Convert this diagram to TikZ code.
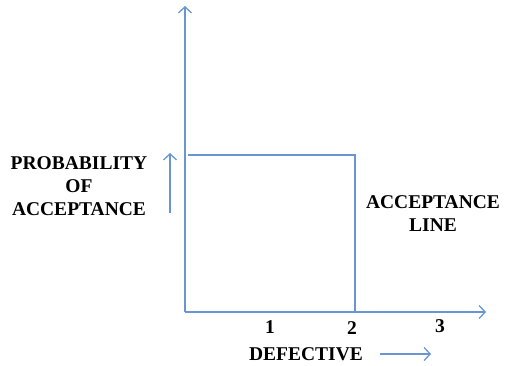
\documentclass[tikz,border=0pt]{standalone}
\usepackage{fontspec}
\setmainfont{Liberation Serif}
\usetikzlibrary{arrows.meta}
\definecolor{axisblue}{RGB}{105,150,210}
\tikzset{
  axis/.style={draw=axisblue, line width=1.3pt},
  arrowline/.style={axis, -{Straight Barb[length=6pt,width=13pt,line width=1.3pt]}},
  lbl/.style={font=\fontsize{19.5}{23}\selectfont\bfseries, inner sep=0pt, align=center},
}
\begin{document}
\begin{tikzpicture}[x=1pt,y=-1pt]
  \useasboundingbox (0,0) rectangle (506,365);
  % axes and corners
  \coordinate (o) at (185,312);
  \coordinate (ytop) at (185,6);
  \coordinate (xend) at (486,312);
  \coordinate (pa) at (188,155);
  \coordinate (pb) at (355,155);
  \coordinate (pc) at (355,311);
  \draw[arrowline] (o) -- (ytop);
  \draw[arrowline] (o) -- (xend);
  % acceptance line
  \draw[axis] (pa) -- (pb) -- (pc);
  % small direction arrows
  \coordinate (pl0) at (170,213);
  \coordinate (pl1) at (170,153);
  \draw[arrowline] (pl0) -- (pl1);
  \coordinate (d0) at (380,354);
  \coordinate (d1) at (431,354);
  \draw[arrowline] (d0) -- (d1);
  % labels
  \node[lbl] (prob) at (79,186) {PROBABILITY\\OF\\ACCEPTANCE};
  \node[lbl] (accl) at (433,214) {ACCEPTANCE\\LINE};
  \node[lbl] (t1) at (270,327) {1};
  \node[lbl] (t2) at (352,328) {2};
  \node[lbl] (t3) at (440,326) {3};
  \node[lbl] (def) at (306,354) {DEFECTIVE};
\end{tikzpicture}
\end{document}
